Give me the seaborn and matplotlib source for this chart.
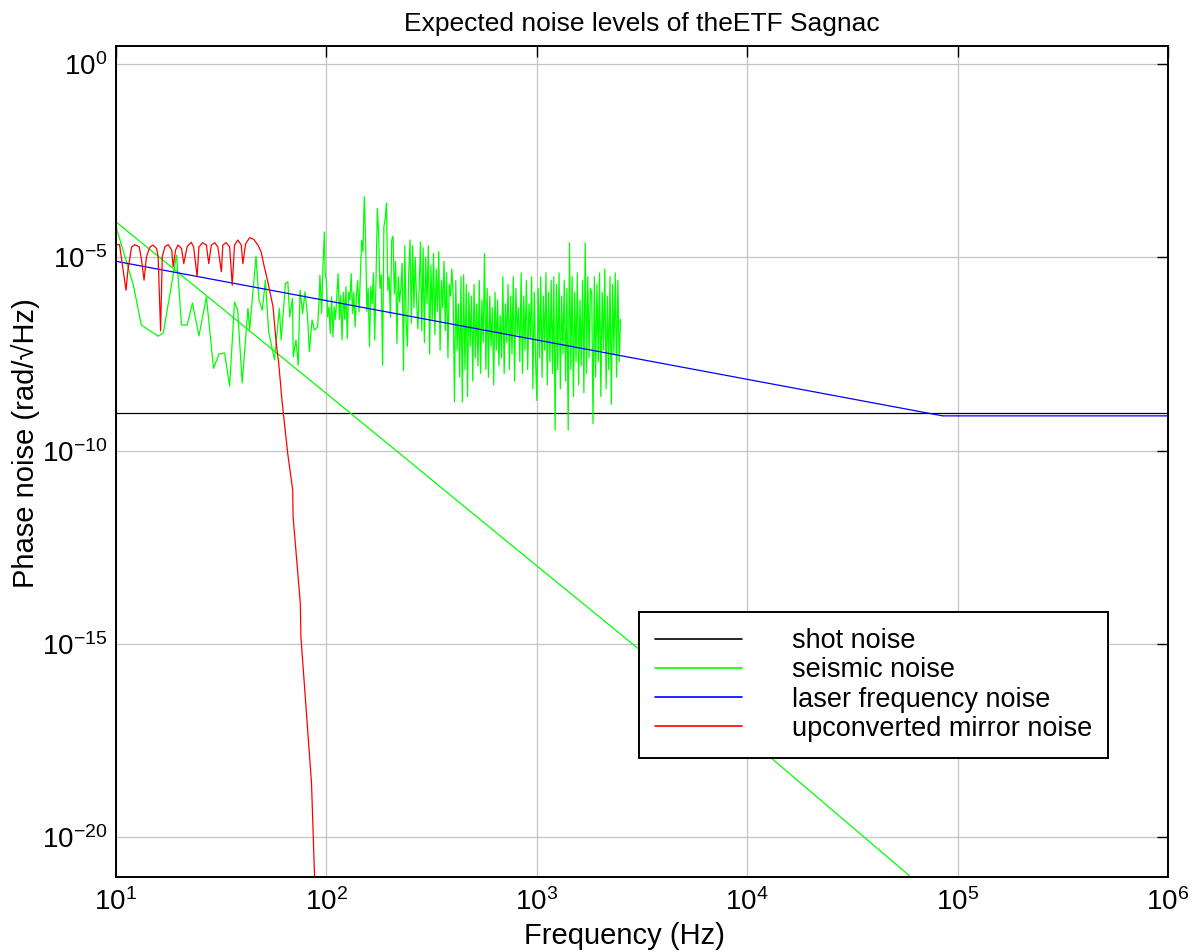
import matplotlib
matplotlib.use("Agg")
import matplotlib.pyplot as plt
from matplotlib.lines import Line2D
from matplotlib.ticker import NullLocator
import numpy as np
import pandas as pd
import seaborn as sns

# ---- data (log10 of phase noise) ----
shot_freq = [10, 1e6]
shot_log = [-9.02, -9.02]

laser_freq = [10, 8.5e4, 1e6]
laser_log = [-5.10, -9.10, -9.10]

seismic_smooth_freq = [10, 100, 1000, 1e4, 6e4, 1e5]
seismic_smooth_log = [-4.08, -8.52, -12.98, -17.42, -21.03, -22.10]

# measured seismic spectrum, low part (10-100 Hz)
seismic_low_freq = [10, 12.1, 13.2, 15.9, 16.8, 19.4, 20.5, 21.8, 23.1, 24.8, 26.9, 29.1,
                    30.9, 32.8, 34.7, 36.6, 37.9, 39.8, 42.4, 43.2, 46.3, 47.8, 49.6, 51.3,
                    53.2, 56.7, 59.8, 61.0, 63.9, 65.6, 67.0, 69.0, 69.6, 71.7, 73.5, 75.0,
                    77.1, 79.2, 81.4, 83.0, 85.5, 87.7, 90.9, 92.5, 93.2, 95.0, 96.0, 97.9, 98.7]
seismic_low_log = [-4.20, -5.72, -6.75, -7.04, -6.95, -4.94, -6.75, -6.75, -6.18, -7.03, -6.02, -7.87,
                   -7.50, -7.47, -8.33, -6.15, -6.37, -8.25, -6.32, -6.87, -4.97, -6.09, -6.37, -5.59,
                   -6.93, -7.65, -6.32, -7.14, -5.67, -5.63, -6.54, -6.06, -7.57, -7.14, -7.79, -5.85,
                   -6.45, -5.89, -6.54, -7.44, -6.62, -6.88, -6.80, -6.02, -5.46, -6.45, -5.43, -4.34, -5.41]

# measured seismic spectrum, high part (100-2500 Hz, log-spaced bins)
seismic_high_log = [
    # 100-150 Hz
    -5.59, -6.54, -6.28, -6.97, -6.02, -7.06, -6.28, -6.60, -5.98, -5.42, -6.60, -5.98, -7.14, -5.90,
    -6.60, -5.76, -7.10, -5.90, -6.10, -5.42, -6.45, -5.90, -6.80, -6.00, -5.60, -6.40, -5.50, -4.55,
    # 150-400 Hz
    -4.85, -3.43, -4.50, -6.40, -5.80, -7.31, -5.75, -6.20, -5.40, -7.14, -5.55, -3.73, -4.40, -5.80,
    -5.45, -7.79, -4.20, -4.00, -3.59, -5.85, -5.50, -6.55, -4.55, -4.45, -5.95, -5.10, -7.23, -5.50,
    -6.15, -5.80, -5.15, -7.93, -4.70, -6.65, -7.30, -5.40, -4.55, -6.70, -4.70, -6.30, -5.00, -6.10,
    -6.85, -5.80, -4.60, -6.90, -4.75, -7.20, -5.00, -6.20, -4.70, -7.50, -5.20, -6.60, -4.90, -7.00,
    -5.30, -6.40, -4.85, -7.40, -5.60, -6.30, -5.10, -6.90, -5.40, -7.60, -5.70, -6.00, -5.30,
    # 400-1000 Hz
    -6.00, -8.74, -5.60, -7.40, -6.20, -8.10, -5.50, -8.74, -5.45, -7.90, -5.70, -8.60, -5.90, -7.30,
    -6.00, -8.20, -5.70, -7.60, -6.20, -7.80, -5.60, -8.00, -6.10, -7.20, -4.90, -7.90, -5.80, -8.10,
    -6.00, -7.30, -6.30, -8.30, -5.90, -7.40, -6.10, -7.80, -6.50, -7.60, -5.50, -8.00, -6.20, -7.20,
    -5.70, -7.90, -6.00, -7.50, -5.50, -8.20, -5.80, -7.00, -6.30, -7.70, -5.40, -8.00, -6.00, -7.40,
    -5.60, -7.90, -6.20, -7.10, -5.50, -8.40, -5.90, -7.60,
    # 1000-2500 Hz
    -8.70, -5.80, -7.60, -5.50, -8.10, -6.00, -7.40, -5.40, -8.30, -5.90, -7.70, -5.60, -8.00, -5.50,
    -9.47, -5.70, -7.90, -5.40, -8.40, -6.00, -7.50, -5.60, -8.20, -5.80, -9.47, -4.62, -7.90, -5.50,
    -8.60, -5.90, -7.70, -5.40, -8.30, -6.10, -7.80, -5.60, -8.50, -4.62, -8.00, -5.50, -7.60, -5.80,
    -5.90, -9.30, -5.50, -8.10, -5.70, -7.70, -5.40, -8.60, -5.90, -7.40, -5.30, -8.40, -6.00, -7.90,
    -5.50, -8.80, -5.70, -7.50, -5.40, -8.10, -5.60, -7.70, -6.60,
]
seismic_high_range = (100, 2500)

mirror_freq = [10, 10.4, 11.16, 11.4, 11.87, 12.3, 12.9, 13.2, 13.6, 13.97, 14.5, 15.0, 15.6, 15.86,
               16.3, 16.6, 17.1, 17.7, 18.4, 18.7, 19.2, 19.7, 20.5, 21.0, 21.8, 22.8, 23.4, 24.3,
               24.8, 25.8, 26.9, 27.6, 28.4, 29.5, 30.5, 31.7, 32.2, 33.4, 34.7, 35.7, 36.6, 38.0,
               39.4, 40.1, 41.3, 43.2, 45.1, 47.3, 49.0, 50.3, 52.7, 55.8, 57.8, 59.4, 61.5, 65.5,
               69.2, 69.5, 75.2, 75.7, 85.0, 87.9, 88.6]
mirror_log = [-4.67, -4.67, -5.85, -5.33, -4.73, -4.67, -4.73, -5.03, -5.59, -4.98, -4.73, -4.68, -4.77, -4.98,
              -6.90, -4.98, -4.72, -4.67, -4.81, -5.24, -4.81, -4.68, -4.77, -5.16, -4.72, -4.61, -4.73, -5.50,
              -4.73, -4.62, -4.68, -5.16, -4.68, -4.62, -4.73, -5.37, -4.68, -4.62, -4.73, -5.72, -4.68, -4.55,
              -4.68, -5.16, -4.65, -4.49, -4.53, -4.68, -4.86, -5.16, -5.63, -6.28, -7.23, -7.75, -8.69, -10.07,
              -11.02, -11.71, -13.95, -14.82, -18.60, -21.03, -21.60]

labels = ["shot noise", "seismic noise", "laser frequency noise", "upconverted mirror noise"]
colors = ["black", "#00ff00", "blue", "red"]

# ---- build frames ----
shot = pd.DataFrame({"f": shot_freq, "p": np.power(10.0, shot_log)})
laser = pd.DataFrame({"f": laser_freq, "p": np.power(10.0, laser_log)})
seis_s = pd.DataFrame({"f": seismic_smooth_freq, "p": np.power(10.0, seismic_smooth_log)})
seis_hi_f = np.geomspace(seismic_high_range[0], seismic_high_range[1], len(seismic_high_log))
seis_m = pd.DataFrame({
    "f": list(seismic_low_freq) + list(seis_hi_f),
    "p": np.power(10.0, list(seismic_low_log) + list(seismic_high_log)),
})
mirror = pd.DataFrame({"f": mirror_freq, "p": np.power(10.0, mirror_log)})

# ---- style ----
sns.set_style("white")
plt.rcParams["font.family"] = ["Liberation Sans", "DejaVu Sans"]
plt.rcParams["mathtext.fontset"] = "custom"
plt.rcParams["mathtext.rm"] = "Liberation Sans"
plt.rcParams["axes.unicode_minus"] = False
for k in ["text.color", "axes.labelcolor", "xtick.color", "ytick.color"]:
    plt.rcParams[k] = "black"

fig = plt.figure(figsize=(11.93, 9.52), dpi=100)
ax = fig.add_axes([0.0972, 0.0788, 0.8818, 0.8729])
ax.set_xscale("log")
ax.set_yscale("log")

lw = 0.9
sns.lineplot(data=shot, x="f", y="p", color=colors[0], lw=lw, ax=ax, estimator=None, sort=False)
sns.lineplot(data=seis_m, x="f", y="p", color=colors[1], lw=lw, ax=ax, estimator=None, sort=False)
sns.lineplot(data=seis_s, x="f", y="p", color=colors[1], lw=lw, ax=ax, estimator=None, sort=False)
sns.lineplot(data=laser, x="f", y="p", color=colors[2], lw=lw, ax=ax, estimator=None, sort=False)
sns.lineplot(data=mirror, x="f", y="p", color=colors[3], lw=lw, ax=ax, estimator=None, sort=False)

ax.set_xlim(10, 1e6)
ax.set_ylim(10 ** -21.03, 10 ** 0.47)
ax.set_xticks([1e1, 1e2, 1e3, 1e4, 1e5, 1e6])
ax.set_yticks([1e-20, 1e-15, 1e-10, 1e-5, 1e0])
ax.xaxis.set_minor_locator(NullLocator())
ax.yaxis.set_minor_locator(NullLocator())

ax.grid(True, which="major", color="#c4c4c4", lw=0.9)
ax.set_axisbelow(True)
for sp in ax.spines.values():
    sp.set_color("black")
    sp.set_linewidth(1.4)
ax.tick_params(axis="both", which="major", direction="in", length=8, width=1,
               top=True, right=True, labelsize=20, pad=8)
ax.tick_params(axis="y", pad=6)

ax.set_title("Expected noise levels of theETF Sagnac", fontsize=19, pad=11)
ax.set_xlabel("Frequency (Hz)", fontsize=21)
ax.set_ylabel("Phase noise (rad/\u221aHz)", fontsize=21)
ax.xaxis.set_label_coords(0.483, -0.054)
ax.yaxis.set_label_coords(-0.072, 0.522)

handles = [Line2D([0], [0], color=c, lw=1.2) for c in colors]
leg = ax.legend(handles, labels, loc="upper left", bbox_to_anchor=(0.497, 0.319),
                borderaxespad=0, fontsize=19.5, handlelength=3.2, handletextpad=1.85,
                labelspacing=0.12, borderpad=0.6, fancybox=False, framealpha=1,
                edgecolor="black")
leg.get_frame().set_linewidth(1.4)

fig.savefig("out.png", dpi=100)
